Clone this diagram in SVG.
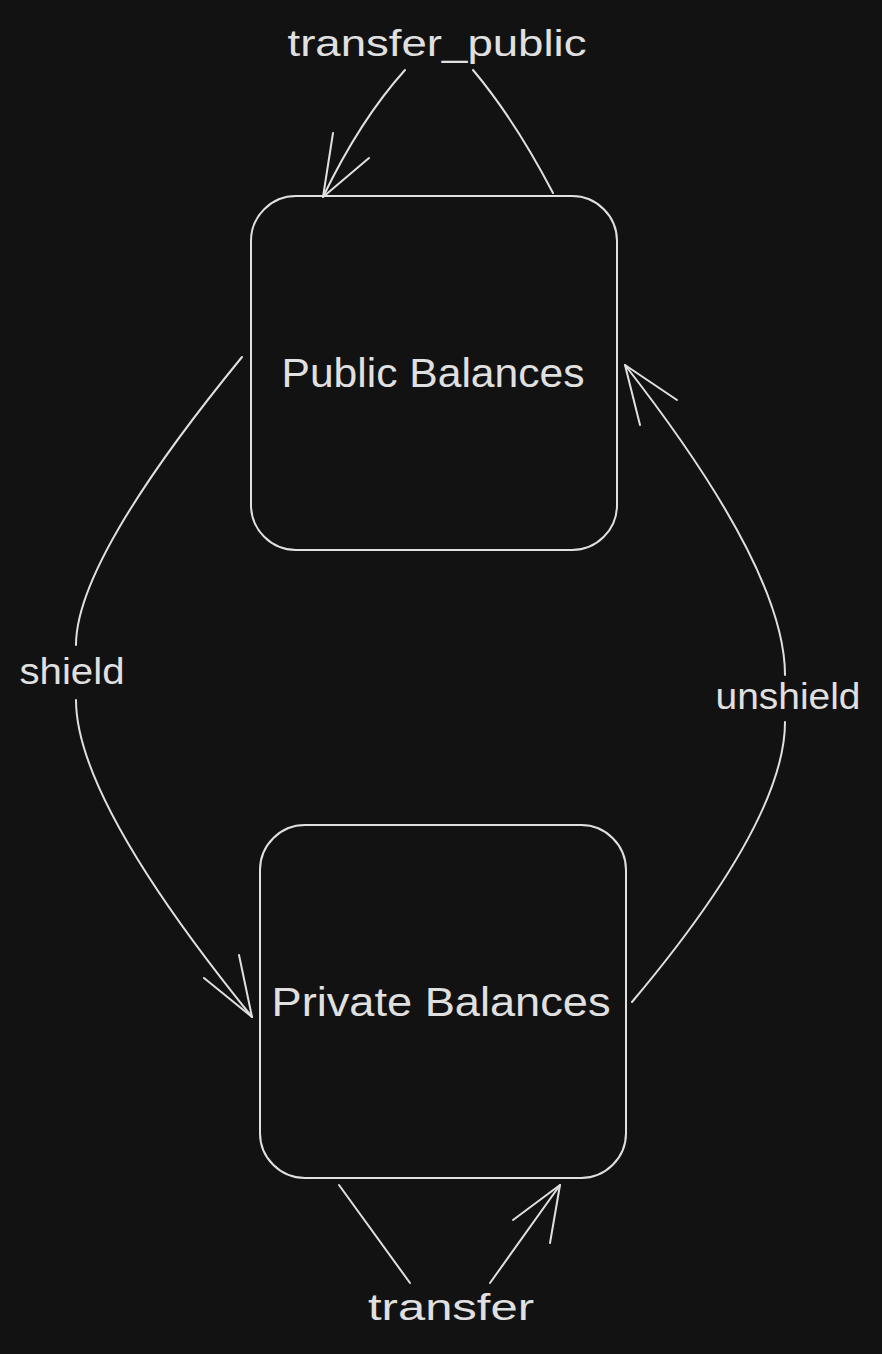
<svg xmlns="http://www.w3.org/2000/svg" width="882" height="1354" viewBox="0 0 882 1354">
<style>
.bg{fill:#121212}
.box{fill:none;stroke:#e0e0e0;stroke-width:2}
.edge{fill:none;stroke:#e0e0e0;stroke-width:2;stroke-linecap:round;stroke-linejoin:round}
.t{font-family:"Liberation Sans",Arial,sans-serif;fill:#e0e0e0;text-anchor:middle}
.n{font-size:40px}
.l{font-size:36px}
</style>
<rect class="bg" x="0" y="0" width="882" height="1354"/>
<g id="connectors">
  <g id="e-transfer-public">
    <path class="edge" d="M553,193 Q515,120 473,70"/>
    <path class="edge" d="M405,70 Q360,120 323,197"/>
    <path class="edge" d="M333,133 L323,197 L369,158"/>
    <text class="t l" x="437" y="56" textLength="299" lengthAdjust="spacingAndGlyphs">transfer_public</text>
  </g>
  <g id="e-shield">
    <path class="edge" d="M242,357 Q76,560 76,645"/>
    <path class="edge" d="M76,700 Q76,800 252,1017"/>
    <path class="edge" d="M239,955 L252,1017 L204,978"/>
    <text class="t l" x="72" y="684" textLength="105" lengthAdjust="spacingAndGlyphs">shield</text>
  </g>
  <g id="e-unshield">
    <path class="edge" d="M632,1002 Q785,820 785,722"/>
    <path class="edge" d="M785,675 Q785,570 625,365"/>
    <path class="edge" d="M640,425 L625,365 L677,400"/>
    <text class="t l" x="788" y="709" textLength="145" lengthAdjust="spacingAndGlyphs">unshield</text>
  </g>
  <g id="e-transfer">
    <path class="edge" d="M339,1185 L410,1283"/>
    <path class="edge" d="M490,1283 L560,1185"/>
    <path class="edge" d="M513,1220 L560,1185 L550,1243"/>
    <text class="t l" x="451" y="1320" textLength="166" lengthAdjust="spacingAndGlyphs">transfer</text>
  </g>
</g>
<g id="node-public">
  <rect class="box" x="251" y="196" width="366" height="354" rx="45" ry="45"/>
  <text class="t n" x="433" y="387" textLength="303" lengthAdjust="spacingAndGlyphs">Public Balances</text>
</g>
<g id="node-private">
  <rect class="box" x="260" y="825" width="366" height="353" rx="45" ry="45"/>
  <text class="t n" x="441" y="1016" textLength="339" lengthAdjust="spacingAndGlyphs">Private Balances</text>
</g>
</svg>
